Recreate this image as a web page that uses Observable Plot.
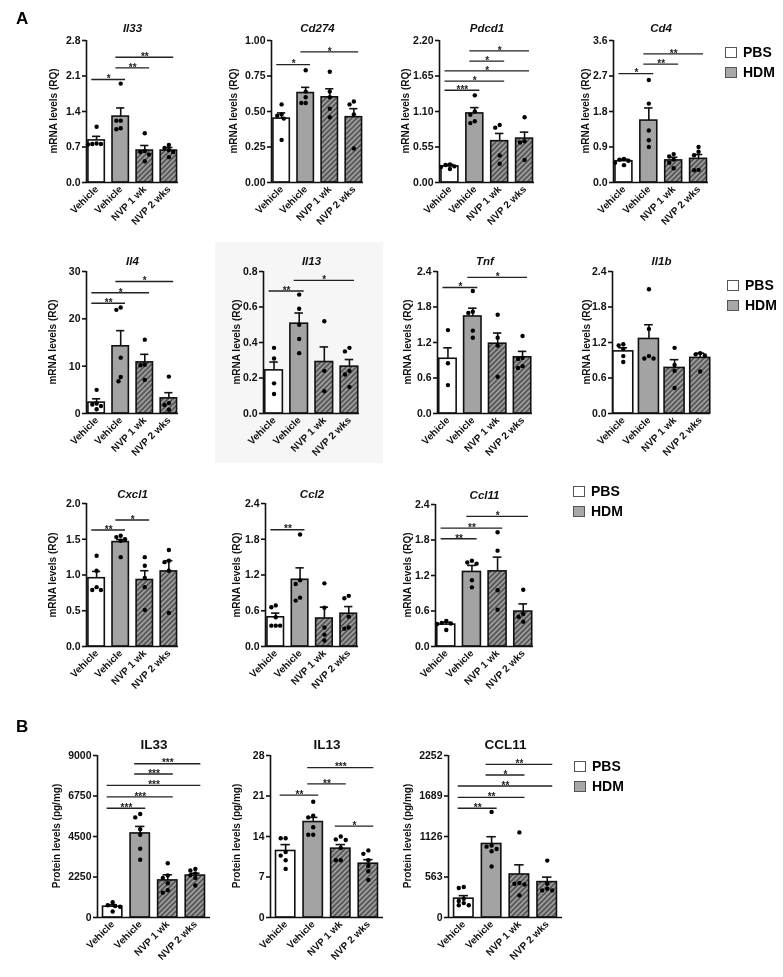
<!DOCTYPE html>
<html><head><meta charset="utf-8">
<script src="https://cdn.jsdelivr.net/npm/d3@7"></script>
<script src="https://cdn.jsdelivr.net/npm/@observablehq/plot@0.6"></script>
<style>
body{margin:0;background:#fff;font-family:"Liberation Sans",Arial,sans-serif;}
#root{position:relative;width:783px;height:977px;overflow:hidden;background:#fff;filter:grayscale(1)}
.panel{position:absolute}
.letter{position:absolute;font-weight:bold;font-size:17px;line-height:1}
.ylab{position:absolute;font-weight:bold;font-size:10px;line-height:1;white-space:nowrap;color:#111;transform:translate(-50%,-50%) rotate(-90deg)}
.leg{position:absolute;display:flex;align-items:center;font-weight:bold;font-size:14px;line-height:1}
.leg span.box{display:inline-block;width:12px;height:11px;border:1px solid #555;box-sizing:border-box;margin-right:6px}
</style></head><body>
<svg width="0" height="0" style="position:absolute"><defs>
<pattern id="hatch" patternUnits="userSpaceOnUse" width="3.6" height="3.6" patternTransform="rotate(45)">
<rect width="3.6" height="3.6" fill="#9c9c9c"/><line x1="1" y1="-1" x2="1" y2="5" stroke="#444" stroke-width="1.4"/>
</pattern></defs></svg>
<div id="root"></div>
<script>
// ---- categories ----
const groupLabels = ["Vehicle", "Vehicle", "NVP 1 wk", "NVP 2 wks"];
const treatment = ["PBS", "HDM", "HDM", "HDM"];
const legendLabels = ["PBS", "HDM"];

// ---- Panel A ----
const il33Mean = [0.83, 1.30, 0.63, 0.63];
const il33Sem = [0.08, 0.17, 0.10, 0.06];
const il33Pts = [[1.10,0.76,0.75,0.77,0.76],[1.95,1.22,1.07,1.05,1.22],[0.97,0.62,0.55,0.42,0.60],[0.74,0.68,0.64,0.60,0.50]];
const il33Sig = [[0,1,2.03,"*"],[1,2,2.26,"**"],[1,3,2.47,"**"]];
const il33Ticks = [0,0.7,1.4,2.1,2.8];
const il33TickLabels = ["0.0","0.7","1.4","2.1","2.8"];

const cd274Mean = [0.45, 0.63, 0.60, 0.46];
const cd274Sem = [0.04, 0.04, 0.06, 0.06];
const cd274Pts = [[0.55,0.48,0.45,0.47,0.30],[0.79,0.64,0.60,0.56,0.56],[0.78,0.64,0.60,0.52,0.46],[0.57,0.55,0.48,0.24]];
const cd274Sig = [[0,1,0.83,"*"],[1,3,0.92,"*"]];
const cd274Ticks = [0,0.25,0.5,0.75,1];
const cd274TickLabels = ["0.00","0.25","0.50","0.75","1.00"];

const pdcd1Mean = [0.25, 1.07, 0.64, 0.68];
const pdcd1Sem = [0.03, 0.09, 0.12, 0.10];
const pdcd1Pts = [[0.27,0.24,0.21,0.28,0.25],[1.35,1.10,1.05,0.95,0.92],[0.89,0.85,0.42,0.29],[1.01,0.64,0.62,0.35]];
const pdcd1Sig = [[0,1,1.43,"***"],[0,2,1.57,"*"],[0,3,1.73,"*"],[1,2,1.88,"*"],[1,3,2.04,"*"]];
const pdcd1Ticks = [0,0.55,1.1,1.65,2.2];
const pdcd1TickLabels = ["0.00","0.55","1.10","1.65","2.20"];

const cd4Mean = [0.54, 1.57, 0.56, 0.60];
const cd4Sem = [0.05, 0.32, 0.08, 0.11];
const cd4Pts = [[0.60,0.58,0.55,0.50,0.44],[2.60,2.00,1.32,1.07,0.90],[0.72,0.66,0.58,0.50,0.36],[0.90,0.78,0.69,0.32,0.31]];
const cd4Sig = [[0,1,2.76,"*"],[1,2,3.0,"**"],[1,3,3.26,"**"]];
const cd4Ticks = [0,0.9,1.8,2.7,3.6];
const cd4TickLabels = ["0.0","0.9","1.8","2.7","3.6"];

const il4Mean = [2.3, 14.2, 10.8, 3.2];
const il4Sem = [0.8, 3.3, 1.7, 1.2];
const il4Pts = [[5.0,2.1,1.9,1.6,0.9],[22.4,21.9,11.8,7.7,6.8],[15.6,10.3,10.2,7.1],[7.8,2.2,1.8,0.8]];
const il4Sig = [[0,1,23.3,"**"],[0,2,25.5,"*"],[1,3,27.9,"*"]];
const il4Ticks = [0,10,20,30];
const il4TickLabels = ["0","10","20","30"];

const il13Mean = [0.243, 0.506, 0.29, 0.264];
const il13Sem = [0.047, 0.06, 0.085, 0.04];
const il13Pts = [[0.37,0.31,0.17,0.11],[0.67,0.59,0.50,0.42,0.34],[0.52,0.24,0.125],[0.37,0.35,0.24,0.22,0.15]];
const il13Sig = [[0,1,0.69,"**"],[1,3,0.75,"*"]];
const il13Ticks = [0,0.2,0.4,0.6,0.8];
const il13TickLabels = ["0.0","0.2","0.4","0.6","0.8"];

const tnfMean = [0.925, 1.64, 1.18, 0.95];
const tnfSem = [0.185, 0.14, 0.18, 0.10];
const tnfPts = [[1.41,0.85,0.48],[2.07,1.72,1.70,1.40,1.28],[1.67,1.28,1.15,0.62],[1.31,0.94,0.92,0.80,0.77]];
const tnfSig = [[0,1,2.13,"*"],[1,3,2.30,"*"]];
const tnfTicks = [0,0.6,1.2,1.8,2.4];
const tnfTickLabels = ["0.0","0.6","1.2","1.8","2.4"];

const il1bMean = [1.05, 1.26, 0.77, 0.94];
const il1bSem = [0.06, 0.24, 0.14, 0.08];
const il1bPts = [[1.17,1.15,1.09,0.97,0.87],[2.10,1.43,0.97,0.93,0.93],[1.11,0.82,0.72,0.43],[1.02,1.00,0.98,0.71]];
const il1bSig = [];
const il1bTicks = [0,0.6,1.2,1.8,2.4];
const il1bTickLabels = ["0.0","0.6","1.2","1.8","2.4"];

const cxcl1Mean = [0.955, 1.46, 0.93, 1.05];
const cxcl1Sem = [0.095, 0.035, 0.13, 0.15];
const cxcl1Pts = [[1.27,1.06,0.83,0.79,0.79],[1.55,1.53,1.50,1.48,1.25],[1.25,1.13,0.96,0.83,0.51],[1.35,1.20,1.18,1.06,0.47]];
const cxcl1Sig = [[0,1,1.63,"**"],[1,2,1.77,"*"]];
const cxcl1Ticks = [0,0.5,1,1.5,2];
const cxcl1TickLabels = ["0.0","0.5","1.0","1.5","2.0"];

const ccl2Mean = [0.49, 1.12, 0.47, 0.55];
const ccl2Sem = [0.07, 0.20, 0.19, 0.12];
const ccl2Pts = [[0.69,0.66,0.49,0.35,0.35,0.35],[1.88,1.11,1.05,0.82,0.77],[1.06,0.65,0.32,0.20,0.10],[0.85,0.81,0.50,0.32,0.30]];
const ccl2Sig = [[0,1,1.96,"**"]];
const ccl2Ticks = [0,0.6,1.2,1.8,2.4];
const ccl2TickLabels = ["0.0","0.6","1.2","1.8","2.4"];

const ccl11Mean = [0.37, 1.26, 1.27, 0.59];
const ccl11Sem = [0.04, 0.11, 0.24, 0.13];
const ccl11Pts = [[0.43,0.40,0.39,0.38,0.28],[1.45,1.42,1.40,1.12,1.00],[1.93,1.62,0.95,0.62],[0.96,0.55,0.50,0.42]];
const ccl11Sig = [[0,1,1.82,"**"],[0,2,2.0,"**"],[1,3,2.2,"*"]];
const ccl11Ticks = [0,0.6,1.2,1.8,2.4];
const ccl11TickLabels = ["0.0","0.6","1.2","1.8","2.4"];

// ---- Panel B ----
const pIl33Mean = [600, 4670, 2060, 2330];
const pIl33Sem = [110, 390, 310, 130];
const pIl33Pts = [[850,680,640,600,330],[5750,5560,4900,4600,3820,3210],[3010,2330,2200,1900,1510,1380],[2700,2610,2450,2350,2200,1780]];
const pIl33Sig = [[0,1,6070,"***"],[0,2,6700,"***"],[0,3,7340,"***"],[1,2,7970,"***"],[1,3,8540,"***"]];
const pIl33Ticks = [0,2250,4500,6750,9000];
const pIl33TickLabels = ["0","2250","4500","6750","9000"];

const pIl13Mean = [11.5, 16.5, 11.9, 9.3];
const pIl13Sem = [1.1, 0.8, 0.7, 0.7];
const pIl13Pts = [[13.7,13.7,11.3,10.7,9.9,8.4],[20.0,17.6,17.3,15.6,14.3,14.3],[14.0,13.5,13.4,12.0,9.9,9.9],[11.6,11.0,9.9,8.9,8.0,6.5]];
const pIl13Sig = [[0,1,21.15,"**"],[1,2,23.1,"**"],[1,3,25.9,"***"],[2,3,15.8,"*"]];
const pIl13Ticks = [0,7,14,21,28];
const pIl13TickLabels = ["0","7","14","21","28"];

const pCcl11Mean = [262, 1022, 598, 492];
const pCcl11Sem = [42, 101, 134, 69];
const pCcl11Pts = [[424,410,260,230,200,170,170],[1468,1000,985,953,920,709],[1183,480,470,460,308],[791,470,400,377,377]];
const pCcl11Sig = [[0,1,1519,"**"],[0,2,1670,"**"],[0,3,1828,"**"],[1,2,1980,"*"],[1,3,2128,"**"]];
const pCcl11Ticks = [0,563,1126,1689,2252];
const pCcl11TickLabels = ["0","563","1126","1689","2252"];

const mrnaLabel = "mRNA levels (RQ)";
const proteinLabel = "Protein levels (pg/mg)";

// ---- layout (geometry only) ----
const A = [-0.42, 3.4], B = [-0.55, 3.55];
const panels = [
 {title:"Il33", ital:true, mean:il33Mean, sem:il33Sem, pts:il33Pts, sig:il33Sig, ticks:il33Ticks, tl:il33TickLabels, yl:mrnaLabel, ax:86, yt:40, yb:182, fw:92, xd:A, hw:0.34, ylo:-32, td:-12},
 {title:"Cd274", ital:true, mean:cd274Mean, sem:cd274Sem, pts:cd274Pts, sig:cd274Sig, ticks:cd274Ticks, tl:cd274TickLabels, yl:mrnaLabel, ax:271, yt:40, yb:182, fw:92, xd:A, hw:0.34, ylo:-37, td:-12},
 {title:"Pdcd1", ital:true, mean:pdcd1Mean, sem:pdcd1Sem, pts:pdcd1Pts, sig:pdcd1Sig, ticks:pdcd1Ticks, tl:pdcd1TickLabels, yl:mrnaLabel, ax:439, yt:40, yb:182, fw:95, xd:A, hw:0.34, ylo:-33, td:-12},
 {title:"Cd4", ital:true, mean:cd4Mean, sem:cd4Sem, pts:cd4Pts, sig:cd4Sig, ticks:cd4Ticks, tl:cd4TickLabels, yl:mrnaLabel, ax:613, yt:40, yb:182, fw:95, xd:A, hw:0.34, ylo:-27, td:-12},
 {title:"Il4", ital:true, mean:il4Mean, sem:il4Sem, pts:il4Pts, sig:il4Sig, ticks:il4Ticks, tl:il4TickLabels, yl:mrnaLabel, ax:86, yt:271, yb:413, fw:92, xd:A, hw:0.34, ylo:-33, td:-10.5},
 {title:"Il13", ital:true, mean:il13Mean, sem:il13Sem, pts:il13Pts, sig:il13Sig, ticks:il13Ticks, tl:il13TickLabels, yl:mrnaLabel, ax:263, yt:271, yb:413, fw:96, xd:A, hw:0.35, ylo:-26, td:-10.5},
 {title:"Tnf", ital:true, mean:tnfMean, sem:tnfSem, pts:tnfPts, sig:tnfSig, ticks:tnfTicks, tl:tnfTickLabels, yl:mrnaLabel, ax:437, yt:271, yb:413, fw:95, xd:A, hw:0.35, ylo:-29, td:-10.5},
 {title:"Il1b", ital:true, mean:il1bMean, sem:il1bSem, pts:il1bPts, sig:il1bSig, ticks:il1bTicks, tl:il1bTickLabels, yl:mrnaLabel, ax:612, yt:271, yb:413, fw:98, xd:A, hw:0.39, ylo:-25, td:-10.5},
 {title:"Cxcl1", ital:true, mean:cxcl1Mean, sem:cxcl1Sem, pts:cxcl1Pts, sig:cxcl1Sig, ticks:cxcl1Ticks, tl:cxcl1TickLabels, yl:mrnaLabel, ax:86, yt:503, yb:646, fw:92, xd:A, hw:0.34, ylo:-33, td:-9.5},
 {title:"Ccl2", ital:true, mean:ccl2Mean, sem:ccl2Sem, pts:ccl2Pts, sig:ccl2Sig, ticks:ccl2Ticks, tl:ccl2TickLabels, yl:mrnaLabel, ax:265, yt:503, yb:646, fw:93, xd:A, hw:0.34, ylo:-28, td:-9.5},
 {title:"Ccl11", ital:true, mean:ccl11Mean, sem:ccl11Sem, pts:ccl11Pts, sig:ccl11Sig, ticks:ccl11Ticks, tl:ccl11TickLabels, yl:mrnaLabel, ax:435, yt:504, yb:646, fw:98, xd:A, hw:0.35, ylo:-27, td:-9.5},
 {title:"IL33", ital:false, mean:pIl33Mean, sem:pIl33Sem, pts:pIl33Pts, sig:pIl33Sig, ticks:pIl33Ticks, tl:pIl33TickLabels, yl:proteinLabel, ax:97, yt:755, yb:917, fw:113, xd:B, hw:0.35, ylo:-40, td:-11},
 {title:"IL13", ital:false, mean:pIl13Mean, sem:pIl13Sem, pts:pIl13Pts, sig:pIl13Sig, ticks:pIl13Ticks, tl:pIl13TickLabels, yl:proteinLabel, ax:270, yt:755, yb:917, fw:113, xd:B, hw:0.35, ylo:-33, td:-11},
 {title:"CCL11", ital:false, mean:pCcl11Mean, sem:pCcl11Sem, pts:pCcl11Pts, sig:pCcl11Sig, ticks:pCcl11Ticks, tl:pCcl11TickLabels, yl:proteinLabel, ax:448, yt:755, yb:917, fw:114, xd:B, hw:0.35, ylo:-40, td:-11}
];

const root = document.getElementById("root");
// faint pasted background behind the Il13 panel
const bg = document.createElement("div");
Object.assign(bg.style, {position:"absolute", left:"215px", top:"242px", width:"168px", height:"221px", background:"#f6f6f6"});
root.appendChild(bg);

const fills = ["#ffffff", "#a3a3a3", "url(#hatch)", "url(#hatch)"];
const LW = 1.6;

function drawPanel(p) {
  const ML = 62, MR = 10, MT = 30, MB = 64;
  const ymax = p.ticks[p.ticks.length - 1];
  const fh = p.yb - p.yt;
  const W = ML + p.fw + MR, H = MT + fh + MB;
  const ppuY = fh / ymax, ppuX = p.fw / (p.xd[1] - p.xd[0]);
  const rows = p.mean.map((m, i) => ({i, m, s: p.sem[i]}));
  // place the read values side by side where they would overlap
  const pts = [];
  const cands = [0, -0.09, 0.09, -0.18, 0.18, -0.27, 0.27, -0.36, 0.36];
  p.pts.forEach((vals, i) => {
    const placed = [];
    [...vals].sort((a, b) => b - a).forEach(v => {
      const py = v * ppuY;
      let off = cands.find(o => placed.every(q => Math.hypot(q.px - o * ppuX, q.py - py) >= 4.3));
      if (off === undefined) off = 0;
      placed.push({px: off * ppuX, py});
      pts.push({i, v, off});
    });
  });
  const sig = p.sig.map(([a, b, lvl, s]) => ({a, b, lvl, s}));
  const mid = (p.xd[0] + p.xd[1]) / 2;
  const chart = Plot.plot({
    width: W, height: H, marginLeft: ML, marginRight: MR, marginTop: MT, marginBottom: MB,
    x: {domain: p.xd, axis: null},
    y: {domain: [0, ymax], axis: null},
    style: {fontFamily: "'Liberation Sans', Arial, sans-serif", fontSize: "10.5px", fontWeight: "bold", background: "transparent", overflow: "visible", color: "#111"},
    marks: [
      Plot.rectY(rows.filter(d => d.i === 0), {x1: d => d.i - p.hw, x2: d => d.i + p.hw, y1: 0, y2: "m", fill: fills[0], stroke: "#111", strokeWidth: LW}),
      Plot.rectY(rows.filter(d => d.i === 1), {x1: d => d.i - p.hw, x2: d => d.i + p.hw, y1: 0, y2: "m", fill: fills[1], stroke: "#111", strokeWidth: LW}),
      Plot.rectY(rows.filter(d => d.i >= 2), {x1: d => d.i - p.hw, x2: d => d.i + p.hw, y1: 0, y2: "m", fill: fills[2], stroke: "#111", strokeWidth: LW}),
      Plot.ruleX(rows, {x: "i", y1: "m", y2: d => d.m + d.s, stroke: "#111", strokeWidth: LW}),
      Plot.ruleY(rows, {y: d => d.m + d.s, x1: d => d.i - 0.17, x2: d => d.i + 0.17, stroke: "#111", strokeWidth: LW}),
      Plot.dot(pts, {x: d => d.i + d.off, y: "v", r: 2.2, fill: "#000", stroke: "none"}),
      Plot.ruleY(sig, {y: "lvl", x1: d => d.a - 0.2, x2: d => d.b + 0.2, stroke: "#222", strokeWidth: 1.4}),
      Plot.text(sig, {x: d => (d.a + d.b) / 2, y: "lvl", text: "s", dy: -0.5, fontSize: 10, fill: "#222"}),
      Plot.ruleX([p.xd[0]], {y1: 0, y2: ymax, stroke: "#111", strokeWidth: LW}),
      Plot.ruleY([0], {x1: p.xd[0], x2: p.xd[1], stroke: "#111", strokeWidth: LW}),
      Plot.axisY({ticks: p.ticks, tickFormat: d => p.tl[p.ticks.indexOf(d)], tickSize: 4, tickPadding: 2, label: null, strokeWidth: LW}),
      Plot.axisX({ticks: [0, 1, 2, 3], tickFormat: d => groupLabels[d], tickRotate: -45, tickSize: 0, tickPadding: 5, label: null, fontSize: 10}),
      Plot.text([p.title], {x: () => mid, y: () => ymax, dy: p.td, fontSize: p.ital ? 11.5 : 13.5, fontStyle: p.ital ? "italic" : "normal"})
    ]
  });
  const div = document.createElement("div");
  div.className = "panel";
  div.style.left = (p.ax - ML) + "px";
  div.style.top = (p.yt - MT) + "px";
  div.style.width = W + "px";
  div.appendChild(chart);
  root.appendChild(div);
  // rotated y-axis title, centred on the frame
  const yl = document.createElement("div");
  yl.className = "ylab";
  yl.textContent = p.yl;
  yl.style.left = (p.ax + p.ylo) + "px";
  yl.style.top = ((p.yt + p.yb) / 2) + "px";
  root.appendChild(yl);
}
panels.forEach(drawPanel);

function letter(t, x, y) {
  const d = document.createElement("div");
  d.className = "letter"; d.textContent = t;
  d.style.left = x + "px"; d.style.top = y + "px";
  root.appendChild(d);
}
letter("A", 16, 10);
letter("B", 16, 718);

const legendPos = [[725, 45], [727, 278], [573, 484], [574, 759]];
const legendFills = ["#ffffff", "#a8a8a8"];
legendPos.forEach(([x, y]) => {
  legendLabels.forEach((lab, k) => {
    const d = document.createElement("div");
    d.className = "leg";
    d.style.left = x + "px"; d.style.top = (y + k * 20) + "px";
    d.innerHTML = `<span class="box" style="background:${legendFills[k]}"></span><span>${lab}</span>`;
    root.appendChild(d);
  });
});
</script></body></html>
